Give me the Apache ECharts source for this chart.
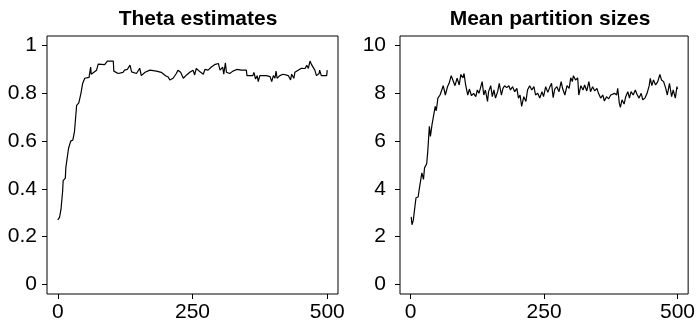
<!DOCTYPE html>
<html>
<head>
<meta charset="utf-8">
<script src="https://cdn.jsdelivr.net/npm/echarts@6/dist/echarts.min.js"></script>
<style>
html,body{margin:0;padding:0;background:#fff;}
#chart{width:698px;height:323px;}
</style>
</head>
<body>
<div id="chart"></div>
<script>
var titles = ["Theta estimates", "Mean partition sizes"];
var xTicks = [0, 250, 500];
var thetaTicks = [0, 0.2, 0.4, 0.6, 0.8, 1];
var sizeTicks = [0, 2, 4, 6, 8, 10];

var thetaX = [0,3,4,6,9,10,14,15,18,20,24,28,31,35,39,43,46,50,58,60,61,62,64,72,74,75,87,92,103,104,112,121,124,129,134,137,146,152,155,162,171,183,192,200,205,208,214,220,223,228,233,239,245,251,254,257,264,270,273,279,285,291,298,301,306,308,311,313,319,325,332,341,350,351,362,364,367,370,372,375,387,394,397,400,403,405,407,412,418,428,432,434,438,440,446,452,459,462,465,468,471,474,477,480,485,486,489,499,500];
var thetaY = [0.27,0.28,0.29,0.315,0.39,0.435,0.445,0.49,0.495,0.57,0.6,0.605,0.64,0.75,0.76,0.8,0.84,0.863,0.867,0.867,0.91,0.88,0.88,0.897,0.897,0.922,0.92,0.935,0.935,0.893,0.883,0.888,0.897,0.9,0.918,0.89,0.883,0.905,0.874,0.888,0.897,0.893,0.888,0.874,0.868,0.856,0.863,0.883,0.897,0.888,0.863,0.877,0.888,0.897,0.877,0.904,0.89,0.88,0.9,0.897,0.91,0.92,0.925,0.897,0.91,0.88,0.928,0.888,0.883,0.893,0.9,0.897,0.897,0.874,0.874,0.888,0.86,0.874,0.849,0.874,0.874,0.87,0.849,0.874,0.863,0.893,0.863,0.874,0.88,0.874,0.856,0.88,0.863,0.888,0.897,0.905,0.904,0.918,0.904,0.935,0.92,0.918,0.897,0.874,0.883,0.897,0.874,0.874,0.897];

var sizeX = [1,2.5,5,7,10,14,16,19,21,24,26,30,32,35,37,40,43,46,48,51,55,57,61,65,69,72,76,79,83,87,91,94,98,100,103,107,110,114,118,122,125,128,131,134,137,140,144,146,150,153,156,159,163,166,170,173,176,180,184,187,191,195,199,202,205,208,212,216,219,223,227,231,234,238,242,246,249,253,257,261,264,267,270,274,278,282,285,289,293,297,300,303,305,309,313,315,319,323,326,330,334,337,341,345,349,352,356,360,363,367,371,375,378,382,386,388,391,393,396,400,403,407,410,413,417,421,424,428,432,435,439,443,447,449,452,455,459,463,467,470,474,478,481,485,489,492,496,499,500];
var sizeY = [2.83,2.5,2.69,3.08,3.63,3.66,3.98,3.94,4.67,4.4,4.88,5.05,5.55,6.62,6.2,6.69,6.71,7.45,7.27,7.8,7.93,7.86,8.32,7.93,8.28,8.42,8.74,8.56,8.32,8.63,8.35,8.79,8.65,8.83,8.35,7.93,8.18,7.9,8.0,7.86,8.14,8.0,8.24,8.49,7.93,8.14,7.66,8.07,8.32,7.86,8.14,7.8,8.07,8.42,7.93,8.21,8.32,8.24,8.32,8.14,8.28,8.07,8.21,7.8,7.93,7.45,7.86,7.66,8.14,8.32,8.14,8.28,7.93,8.0,7.8,8.07,7.86,8.28,8.04,8.28,8.42,7.82,8.18,8.28,8.07,8.49,8.18,7.93,8.32,8.21,8.65,8.49,8.74,8.56,8.65,7.93,8.32,8.14,8.35,8.1,8.49,8.07,8.28,8.1,8.21,8.0,7.8,7.93,7.68,7.86,7.77,7.93,7.86,8.0,7.93,8.21,7.59,7.41,7.73,7.55,7.86,8.07,7.8,8.07,7.93,8.14,7.96,7.8,8.0,7.73,7.8,8.0,8.32,8.63,8.32,8.56,8.35,8.49,8.79,8.56,8.49,8.21,7.93,8.42,7.86,8.14,7.8,8.28,8.18];

function zip(xs, ys) { return xs.map(function (x, i) { return [x, ys[i]]; }); }

var FONT = 'Liberation Sans, Arial, Helvetica, sans-serif';
var grids = [
  {left: 47, top: 36, width: 291, height: 260},
  {left: 400, top: 36, width: 290, height: 260}
];

function xAxis(idx) {
  return {
    type: 'value', gridIndex: idx, min: -20, max: 520, position: 'bottom',
    axisLine: {show: false, onZero: false},
    splitLine: {show: false},
    axisTick: {show: true, inside: false, length: 5, customValues: xTicks, lineStyle: {color: '#000', width: 1}},
    axisLabel: {show: true, customValues: xTicks, margin: 8, color: '#000', fontSize: 21, fontFamily: FONT}
  };
}
function yAxis(idx, ticks, mn, mx, gap) {
  return {
    type: 'value', gridIndex: idx, min: mn, max: mx, position: 'left',
    axisLine: {show: false, onZero: false},
    splitLine: {show: false},
    axisTick: {show: true, inside: false, length: 5, customValues: ticks, lineStyle: {color: '#000', width: 1}},
    axisLabel: {show: true, customValues: ticks, margin: gap, color: '#000', fontSize: 21, fontFamily: FONT,
      formatter: function (v) { return String(v); }}
  };
}

var chart = echarts.init(document.getElementById('chart'), null, {renderer: 'canvas'});
chart.setOption({
  animation: false,
  backgroundColor: '#fff',
  title: [
    {text: titles[0], left: 193, top: 4, textAlign: 'center',
      textStyle: {fontSize: 21, fontWeight: 'bold', color: '#000', fontFamily: FONT}},
    {text: titles[1], left: 545, top: 4, textAlign: 'center',
      textStyle: {fontSize: 21, fontWeight: 'bold', color: '#000', fontFamily: FONT}}
  ],
  grid: grids.map(function (g) {
    return Object.assign({show: true, borderColor: '#000', borderWidth: 1, backgroundColor: 'transparent'}, g);
  }),
  xAxis: [xAxis(0), xAxis(1)],
  yAxis: [yAxis(0, thetaTicks, -0.04, 1.04, 10), yAxis(1, sizeTicks, -0.4, 10.4, 14)],
  series: [
    {type: 'line', xAxisIndex: 0, yAxisIndex: 0, data: zip(thetaX, thetaY), showSymbol: false, symbol: 'none',
      lineStyle: {color: '#000', width: 1.2}},
    {type: 'line', xAxisIndex: 1, yAxisIndex: 1, data: zip(sizeX, sizeY), showSymbol: false, symbol: 'none',
      lineStyle: {color: '#000', width: 1.2}}
  ]
});
</script>
</body>
</html>
